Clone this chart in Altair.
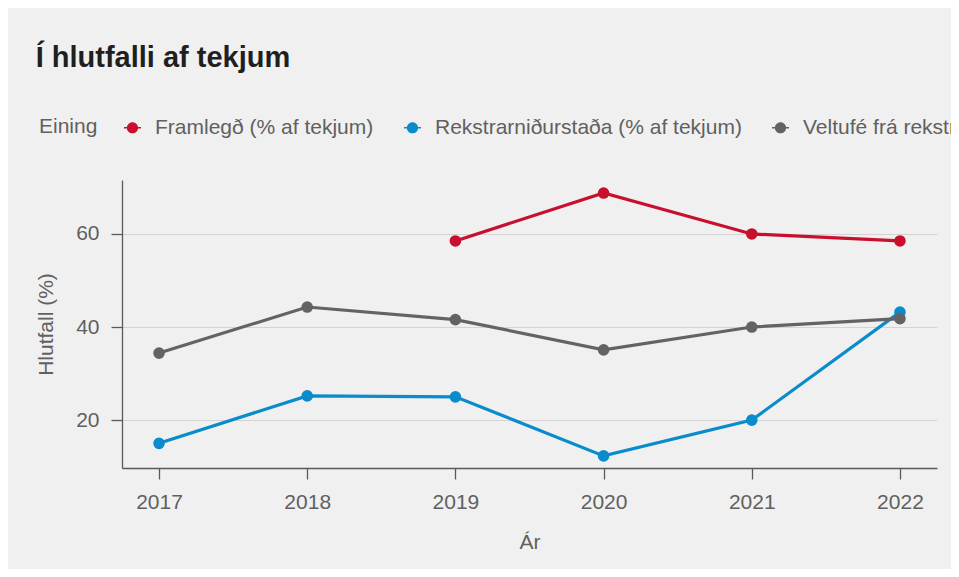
import altair as alt
import pandas as pd

years = [2017, 2018, 2019, 2020, 2021, 2022]
series_names = [
    "Framlegð (% af tekjum)",
    "Rekstrarniðurstaða (% af tekjum)",
    "Veltufé frá rekstri (% af tekjum)",
]
framlegd = [None, None, 58.5, 68.8, 60.0, 58.5]
rekstrar = [15.0, 25.2, 25.0, 12.3, 20.0, 43.2]
veltufe = [34.4, 44.3, 41.6, 35.1, 40.0, 41.8]
colors = ["#c8102e", "#0a8bcb", "#636363"]

rows = []
for name, vals in zip(series_names, [framlegd, rekstrar, veltufe]):
    for y, v in zip(years, vals):
        if v is not None:
            rows.append({"Ár": y, "Hlutfall": v, "Eining": name, "order": series_names.index(name)})
df = pd.DataFrame(rows)

# legend symbol: short line with a dot
sym = ("M-1,-0.1H1V0.1H-1Z "
       "M0.66,0A0.66,0.66 0 1,1 -0.66,0A0.66,0.66 0 1,1 0.66,0Z")

color = alt.Color(
    "Eining:N",
    scale=alt.Scale(domain=series_names, range=colors),
    legend=alt.Legend(
        title="Eining",
        orient="none",
        legendX=-83,
        legendY=-63,
        direction="horizontal",
        titleOrient="left",
        symbolType=sym,
        symbolSize=289,
        symbolStrokeWidth=0,
        labelLimit=0,
        columnPadding=28,
        labelOffset=12,
        titlePadding=24,
        padding=0,
    ),
)

x = alt.X(
    "Ár:Q",
    title="Ár",
    scale=alt.Scale(domain=[2016.75, 2022.25], nice=False, zero=False),
    axis=alt.Axis(values=years, format="d", grid=False, titlePadding=19),
)
y = alt.Y(
    "Hlutfall:Q",
    title="Hlutfall (%)",
    scale=alt.Scale(domain=[9.7, 71.6], nice=False, zero=False),
    axis=alt.Axis(values=[20, 40, 60], grid=True, titlePadding=19),
)

base = alt.Chart(df).encode(x=x, y=y, color=color, order=alt.Order("order:Q"))
lines = base.mark_line(strokeWidth=3.2)
points = base.mark_point(filled=True, size=135, opacity=1)

chart = (
    alt.layer(lines, points)
    .properties(
        width=815,
        height=288,
        autosize=alt.AutoSizeParams(type="none"),
        padding={"left": 114, "top": 172, "right": 14, "bottom": 101},
        background="#f0f0f0",
        title=alt.TitleParams(
            "Í hlutfalli af tekjum",
            anchor="start",
            fontSize=29,
            fontWeight="bold",
            color="#1f1f1f",
            font="Liberation Sans",
            dx=0,
            dy=-40,
        ),
    )
    .configure_view(stroke=None)
    .configure_axis(
        labelFont="Liberation Sans",
        titleFont="Liberation Sans",
        labelFontSize=21,
        titleFontSize=21,
        titleFontWeight="normal",
        labelColor="#606060",
        titleColor="#606060",
        domainColor="#5a5a5a",
        domainWidth=1.3,
        tickColor="#5a5a5a",
        tickWidth=1.3,
        tickSize=11,
        labelPadding=12,
        gridColor="#d4d4d4",
        gridWidth=1,
    )
    .configure_legend(
        labelFont="Liberation Sans",
        titleFont="Liberation Sans",
        labelFontSize=21,
        titleFontSize=21,
        titleFontWeight="normal",
        labelColor="#606060",
        titleColor="#606060",
    )
)

chart.save("out.html", embed_options={"renderer": "svg", "actions": False})
